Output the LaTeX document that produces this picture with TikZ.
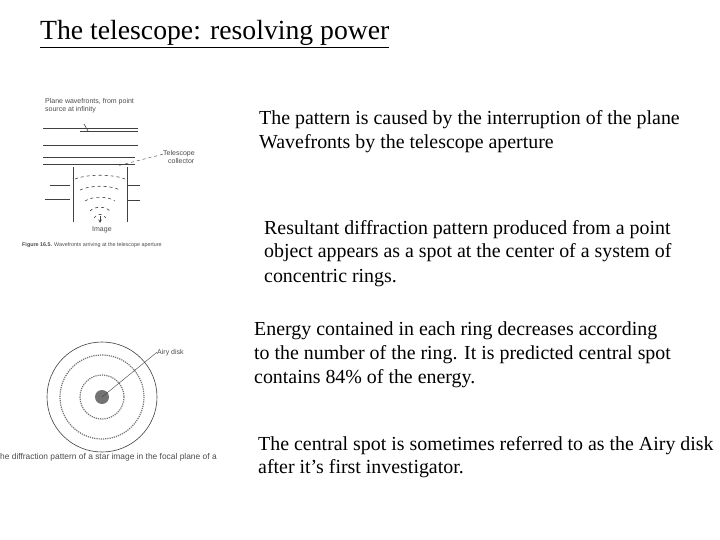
\documentclass[tikz,border=0pt]{standalone}
\usepackage{fontspec}
\setmainfont{Liberation Serif}
\newfontfamily\smallsans{Liberation Sans}
\begin{document}
\begin{tikzpicture}[x=1pt,y=-1pt,
  body/.style={anchor=base west,inner sep=0pt,font=\fontsize{19.9}{22}\selectfont},
  tiny/.style={anchor=base west,inner sep=0pt,font=\smallsans\fontsize{7}{8}\selectfont,text=black!70},
  fig/.style={black!75,line width=0.6pt}]
\useasboundingbox[fill=white] (0,0) rectangle (720,540);
\node[anchor=base west,inner sep=0pt,font=\fontsize{27.7}{30}\selectfont] (title) at (40,40) {\underline{The telescope: resolving power}};
\foreach \t/\x/\y [count=\i] in {
 {The pattern is caused by the interruption of the plane}/259/125,
 {Wavefronts by the telescope aperture}/259/149,
 {Resultant diffraction pattern produced from a point}/264/235,
 {object appears as a spot at the center of a system of}/264/258,
 {concentric rings.}/264/282,
 {Energy contained in each ring decreases according}/254/335,
 {to the number of the ring. It is predicted central spot}/254/359,
 {contains 84\% of the energy.}/254/383,
 {The central spot is sometimes referred to as the Airy disk}/258/450,
 {after it’s first investigator.}/258/473}
 \node[body] (l\i) at (\x,\y) {\t};
% top figure
\node[tiny] (pw1) at (45,104) {Plane wavefronts, from point};
\node[tiny] (pw2) at (45,112) {source at infinity};
\foreach \y/\a/\b in {128/43/138,145/43/138,157/43/135,164/43/135,185/50/70,199/45/70}
  \draw[fig] (\a,\y) -- (\b,\y);
\draw[fig] (80,131) -- (138,131);
\draw[fig] (127,185) -- (140,185);
\draw[fig] (127,200) -- (140,200);
\draw[fig] (88,131) -- (84,124);
\draw[fig] (73,167) -- (73,222);
\draw[fig] (127,167) -- (127,222);
\foreach \y/\w in {175/25,186/20,197/15,207/10,214/6}
  \draw[fig,dashed] (100-\w,\y+4) .. controls (100-\w/2,\y-1) and (100+\w/2,\y-1) .. (100+\w,\y+4);
\draw[fig,-stealth] (100,216) -- (100,223);
\node[tiny] (img) at (92,232) {Image};
\node[tiny] (tc1) at (163,156) {Telescope};
\node[tiny] (tc2) at (168,164) {collector};
\coordinate (tcend) at (117,166);
\draw[fig,dashed,line width=0.4pt] (tc1.west) -- (tcend);
\node[tiny,font=\smallsans\fontsize{5.4}{6}\selectfont] (cap1) at (22,247) {\textbf{Figure 16.5.} Wavefronts arriving at the telescope aperture};
% bottom figure
\coordinate (c) at (102,397);
\draw[fig] (c) circle[radius=55];
\draw[fig,black!55,line width=1.2pt,densely dotted] (c) circle[radius=42];
\draw[fig,black!55,line width=1.2pt,densely dotted] (c) circle[radius=22];
\fill[black!55] (c) circle[radius=7];
\node[tiny] (airy) at (157,354) {Airy disk};
\draw[fig,line width=0.4pt] (c) -- (airy.west);
\node[tiny,font=\smallsans\fontsize{8.4}{9}\selectfont] (cap2) at (0,459) {he diffraction pattern of a star image in the focal plane of a};
\end{tikzpicture}
\end{document}
